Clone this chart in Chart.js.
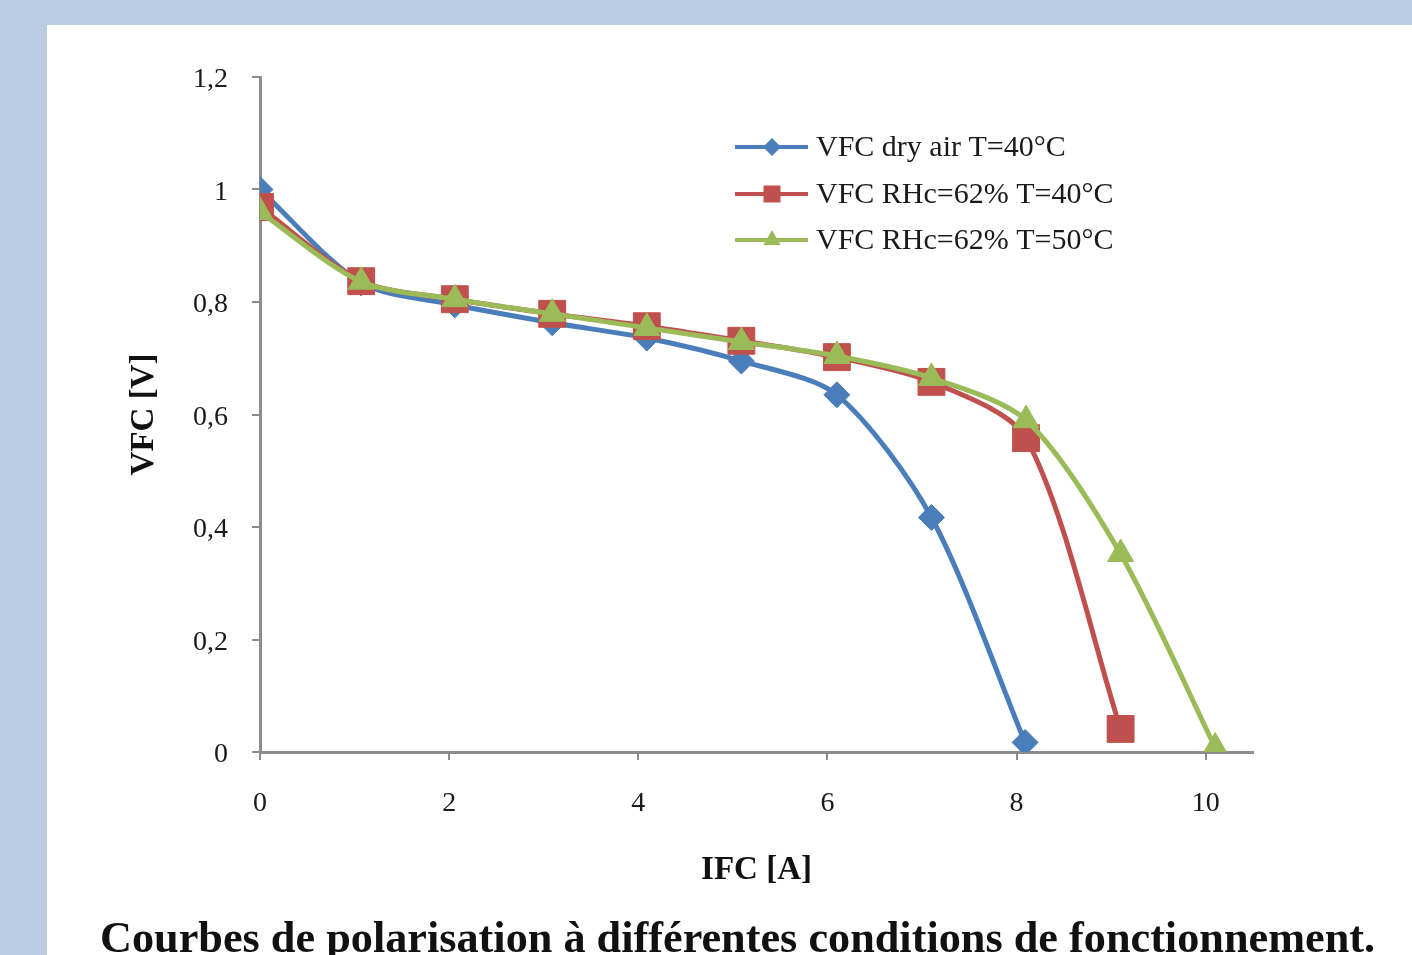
<!DOCTYPE html>
<html><head><meta charset="utf-8">
<script src="https://cdn.jsdelivr.net/npm/chart.js@4.4.0/dist/chart.umd.min.js"></script>
<style>
html,body{margin:0;padding:0;width:1412px;height:955px;overflow:hidden;background:#b9cde5;}
#panel{position:absolute;left:47px;top:25px;width:1365px;height:930px;background:#fff;}
#wrap{position:absolute;left:0;top:0;width:1412px;height:955px;}
#caption{position:absolute;left:100px;top:921px;font-family:"Liberation Serif","DejaVu Serif",serif;font-weight:bold;font-size:38px;line-height:38px;white-space:nowrap;color:#111;}
</style></head>
<body>
<div id="panel"></div>
<div id="wrap"><canvas id="c" width="1412" height="955"></canvas></div>
<div id="caption">Courbes de polarisation à différentes conditions de fonctionnement.</div>
<script>
const seriesNames = ['VFC dry air T=40°C', 'VFC RHc=62% T=40°C', 'VFC RHc=62% T=50°C'];
const currentDry = [0, 1.07, 2.06, 3.09, 4.09, 5.09, 6.1, 7.1, 8.09];
const voltageDry = [1.0, 0.834, 0.795, 0.763, 0.736, 0.695, 0.635, 0.417, 0.017];
const currentRH40 = [0, 1.07, 2.06, 3.09, 4.09, 5.09, 6.1, 7.1, 8.1, 9.1];
const voltageRH40 = [0.969, 0.837, 0.805, 0.779, 0.757, 0.731, 0.702, 0.658, 0.558, 0.041];
const currentRH50 = [0, 1.07, 2.06, 3.09, 4.09, 5.09, 6.1, 7.1, 8.1, 9.1, 10.1];
const voltageRH50 = [0.96, 0.836, 0.805, 0.779, 0.754, 0.729, 0.704, 0.665, 0.59, 0.352, 0.008];
const xTicks = [0, 2, 4, 6, 8, 10];
const xTickLabels = ['0', '2', '4', '6', '8', '10'];
const yTicks = [0, 0.2, 0.4, 0.6, 0.8, 1.0, 1.2];
const yTickLabels = ['0', '0,2', '0,4', '0,6', '0,8', '1', '1,2'];
const xTitle = 'IFC [A]';
const yTitle = 'VFC [V]';

const colors = ['#4a7ebb', '#c0504d', '#9bbb59'];
const styles = ['rectRot', 'rect', 'triangle'];
const radii = [13, 19, 15];
const legendRadii = [9, 12, 10];

function pts(xs, ys) { return xs.map((x, i) => ({x: x, y: ys[i]})); }

function drawMarker(ctx, style, x, y, r, color) {
  ctx.save();
  ctx.fillStyle = color;
  ctx.beginPath();
  if (style === 'rectRot') {
    ctx.moveTo(x - r, y); ctx.lineTo(x, y - r); ctx.lineTo(x + r, y); ctx.lineTo(x, y + r);
  } else if (style === 'rect') {
    const s = Math.SQRT1_2 * r;
    ctx.rect(x - s, y - s, 2 * s, 2 * s);
  } else {
    ctx.moveTo(x, y - r);
    ctx.lineTo(x + r * Math.sin(Math.PI * 2 / 3), y + r / 2);
    ctx.lineTo(x - r * Math.sin(Math.PI * 2 / 3), y + r / 2);
  }
  ctx.closePath();
  ctx.fill();
  ctx.restore();
}

const legendPlugin = {
  id: 'customLegend',
  afterDraw(chart) {
    const ctx = chart.ctx;
    const rows = [147, 194, 240];
    ctx.save();
    for (let i = 0; i < 3; i++) {
      const y = rows[i];
      ctx.strokeStyle = colors[i];
      ctx.lineWidth = 4;
      ctx.beginPath(); ctx.moveTo(735, y); ctx.lineTo(808, y); ctx.stroke();
      drawMarker(ctx, styles[i], 772, y, legendRadii[i], colors[i]);
      ctx.fillStyle = '#1a1a1a';
      ctx.font = '30px "Liberation Serif", "DejaVu Serif", serif';
      ctx.textBaseline = 'middle';
      ctx.textAlign = 'left';
      ctx.fillText(seriesNames[i], 816, y + 1);
    }
    ctx.restore();
  }
};

const series = [pts(currentDry, voltageDry), pts(currentRH40, voltageRH40), pts(currentRH50, voltageRH50)];
const datasets = series.map((d, i) => ({
  label: seriesNames[i],
  data: d,
  showLine: true,
  borderColor: colors[i],
  backgroundColor: colors[i],
  borderWidth: 5,
  tension: 0.28,
  pointStyle: styles[i],
  pointRadius: radii[i],
  pointHoverRadius: radii[i],
  pointBorderWidth: 1,
  pointBorderColor: colors[i],
  pointBackgroundColor: colors[i],
  order: 3 - i
}));

const tickFont = {family: '"Liberation Serif", "DejaVu Serif", serif', size: 28};
const titleFont = {family: '"Liberation Serif", "DejaVu Serif", serif', size: 33, weight: 'bold'};

new Chart(document.getElementById('c'), {
  type: 'scatter',
  data: {datasets: datasets},
  plugins: [legendPlugin],
  options: {
    responsive: false,
    animation: false,
    devicePixelRatio: 1,
    layout: {padding: {left: 125, top: 77, right: 159, bottom: 65}},
    plugins: {legend: {display: false}, tooltip: {enabled: false}},
    scales: {
      x: {
        type: 'linear', min: 0, max: 10.5,
        afterBuildTicks: (s) => { s.ticks = xTicks.map(v => ({value: v})); },
        afterFit: (s) => { s.height = 138; },
        ticks: {
          font: tickFont, color: '#1a1a1a', padding: 27, maxRotation: 0,
          callback: (v) => { const k = xTicks.indexOf(v); return k >= 0 ? xTickLabels[k] : ''; }
        },
        grid: {drawOnChartArea: false, drawTicks: true, tickLength: 8, color: '#8c8c8c', lineWidth: 2},
        border: {color: '#8c8c8c', width: 3},
        title: {display: true, text: xTitle, font: titleFont, color: '#111', padding: 0}
      },
      y: {
        type: 'linear', min: 0, max: 1.2,
        afterBuildTicks: (s) => { s.ticks = yTicks.map(v => ({value: v})); },
        afterFit: (s) => { s.width = 135; },
        ticks: {
          font: tickFont, color: '#1a1a1a', padding: 24, labelOffset: 3,
          callback: (v) => { const k = yTicks.findIndex(t => Math.abs(t - v) < 1e-6); return k >= 0 ? yTickLabels[k] : ''; }
        },
        grid: {drawOnChartArea: false, drawTicks: true, tickLength: 8, color: '#8c8c8c', lineWidth: 2},
        border: {color: '#8c8c8c', width: 3},
        title: {display: true, text: yTitle, font: titleFont, color: '#111', padding: 0}
      }
    }
  }
});

// fit caption width to reference span
(function () {
  const cap = document.getElementById('caption');
  const w = cap.getBoundingClientRect().width;
  const target = 1275;
  const fs = 38 * target / w;
  cap.style.fontSize = fs.toFixed(2) + 'px';
  cap.style.lineHeight = fs.toFixed(2) + 'px';
  cap.style.top = (953 - 0.8375 * fs).toFixed(1) + 'px';
})();
</script>
</body></html>
